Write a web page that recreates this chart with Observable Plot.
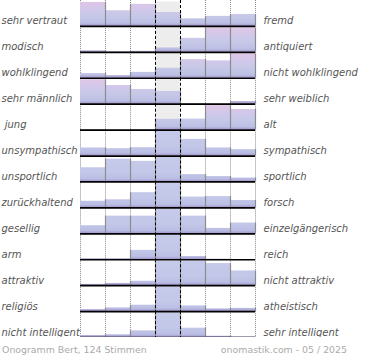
<!DOCTYPE html>
<html><head><meta charset="utf-8">
<script src="https://cdn.jsdelivr.net/npm/d3@7"></script>
<script src="https://cdn.jsdelivr.net/npm/@observablehq/plot@0.6"></script>
<style>
body{margin:0;background:#fff;}
#wrap{position:relative;width:370px;height:360px;overflow:hidden;}
svg text{white-space:pre;}
.foot{position:absolute;top:344px;font:9.4px "DejaVu Sans",sans-serif;color:#aaa;white-space:nowrap;}
</style></head><body><div id="wrap"></div>
<script>
// Left and right poles of each semantic scale
const leftLabels = ["sehr vertraut","modisch","wohlklingend","sehr männlich"," jung","unsympathisch","unsportlich","zurückhaltend","gesellig","arm","attraktiv","religiös","nicht intelligent"];
const rightLabels = ["fremd","antiquiert","nicht wohlklingend","sehr weiblich","alt","sympathisch","sportlich","forsch","einzelgängerisch","reich","nicht attraktiv","atheistisch","sehr intelligent"];
// 7-step scale, relative bar heights (100 = full row)
const values = [
  [98, 64, 90, 57, 31, 41, 49],
  [6, 2, 4, 18, 57, 100, 100],
  [19, 11, 24, 41, 76, 71, 100],
  [100, 76, 60, 52, 2, 1, 11],
  [2, 1, 2, 44, 45, 100, 84],
  [33, 30, 34, 100, 68, 33, 26],
  [58, 93, 84, 100, 30, 22, 16],
  [27, 33, 62, 100, 44, 46, 30],
  [33, 72, 72, 100, 72, 22, 44],
  [4, 4, 38, 100, 13, 2, 0],
  [5, 9, 18, 100, 100, 90, 60],
  [8, 15, 26, 100, 23, 11, 13],
  [8, 11, 27, 100, 38, 5, 2]
];
const footerLeft = "Onogramm Bert, 124 Stimmen";
const footerRight = "onomastik.com - 05 / 2025";

const FULL = 100, NEUTRAL = 3, STEPS = 7;
const rows = leftLabels.map((l, i) => {
  const vs = values[i];
  return {row: i, left: l, right: rightLabels[i], centerMax: vs[NEUTRAL] >= d3.max(vs)};
});
const cells = rows.flatMap(r => values[r.row].map((v, c) => ({row: r.row, col: c, v, centerMax: r.centerMax})));
const edges = rows.flatMap(r => d3.range(STEPS).map(c => ({
  row: r.row, x: c + 1,
  h: Math.max(values[r.row][c], c + 1 < STEPS ? values[r.row][c + 1] : 0)
})));

const plot = Plot.plot({
  width: 370, height: 337,
  marginLeft: 80, marginRight: 115, marginTop: 0, marginBottom: 0,
  x: {domain: [0, STEPS], axis: null},
  y: {domain: [0, 105.7], axis: null},
  fy: {domain: d3.range(rows.length), padding: 0, round: false, axis: null},
  style: {fontFamily: "DejaVu Sans", background: "#fff"},
  marks: [
    Plot.rect(rows, {fy: "row", x1: NEUTRAL, x2: NEUTRAL + 1, y1: 0, y2: FULL, fill: "#ededed"}),
    Plot.ruleX([0, 1, 2, 5, 6, 7], {stroke: "#8a8a8a", strokeDasharray: "1,1", strokeWidth: 1}),
    Plot.rect(cells.filter(d => !d.centerMax), {fy: "row", x1: "col", x2: d => d.col + 1, y1: 0, y2: "v", fill: "url(#gPink)"}),
    Plot.rect(cells.filter(d => d.centerMax), {fy: "row", x1: "col", x2: d => d.col + 1, y1: 0, y2: "v", fill: "url(#gBlue)"}),
    Plot.ruleX(edges.filter(d => d.h > 0), {fy: "row", x: "x", y1: 0, y2: "h", stroke: "#8c8c8c", strokeWidth: 1.2}),
    Plot.ruleY([0], {x1: 0, x2: STEPS, stroke: "#000", strokeWidth: 1.7}),
    Plot.ruleX([NEUTRAL, NEUTRAL + 1], {stroke: "#000", strokeDasharray: "3,2", strokeWidth: 1}),
    Plot.text(rows, {fy: "row", text: "left", frameAnchor: "left", y: 21, dx: -79, textAnchor: "start",
      fontStyle: "italic", fill: "#555", fontSize: 10}),
    Plot.text(rows, {fy: "row", text: "right", frameAnchor: "right", y: 21, dx: 8, textAnchor: "start",
      fontStyle: "italic", fill: "#555", fontSize: 10})
  ]
});

// gradients in facet-local user space
const ys = plot.scale("y");
const yTop = ys.apply(FULL), yBot = ys.apply(0);
const ns = "http://www.w3.org/2000/svg";
const defs = document.createElementNS(ns, "defs");
function grad(id, stops) {
  const g = document.createElementNS(ns, "linearGradient");
  g.setAttribute("id", id);
  g.setAttribute("gradientUnits", "userSpaceOnUse");
  g.setAttribute("x1", 0); g.setAttribute("x2", 0);
  g.setAttribute("y1", yTop); g.setAttribute("y2", yBot);
  for (const [o, c] of stops) {
    const s = document.createElementNS(ns, "stop");
    s.setAttribute("offset", o); s.setAttribute("stop-color", c);
    g.appendChild(s);
  }
  defs.appendChild(g);
}
grad("gPink", [["0", "#e0c6e6"], ["0.3", "#d2c8ea"], ["0.6", "#c6c8e8"], ["0.88", "#bcc0e4"], ["1", "#a294cb"]]);
grad("gBlue", [["0", "#c6cbea"], ["0.6", "#c3c7e8"], ["0.88", "#bbbfe4"], ["1", "#a396cb"]]);
plot.insertBefore(defs, plot.firstChild);

const wrap = document.getElementById("wrap");
wrap.appendChild(plot);
const fl = document.createElement("div");
fl.className = "foot"; fl.style.left = "2px"; fl.textContent = footerLeft;
const fr = document.createElement("div");
fr.className = "foot"; fr.style.right = "23px"; fr.textContent = footerRight;
wrap.appendChild(fl); wrap.appendChild(fr);
</script></body></html>
